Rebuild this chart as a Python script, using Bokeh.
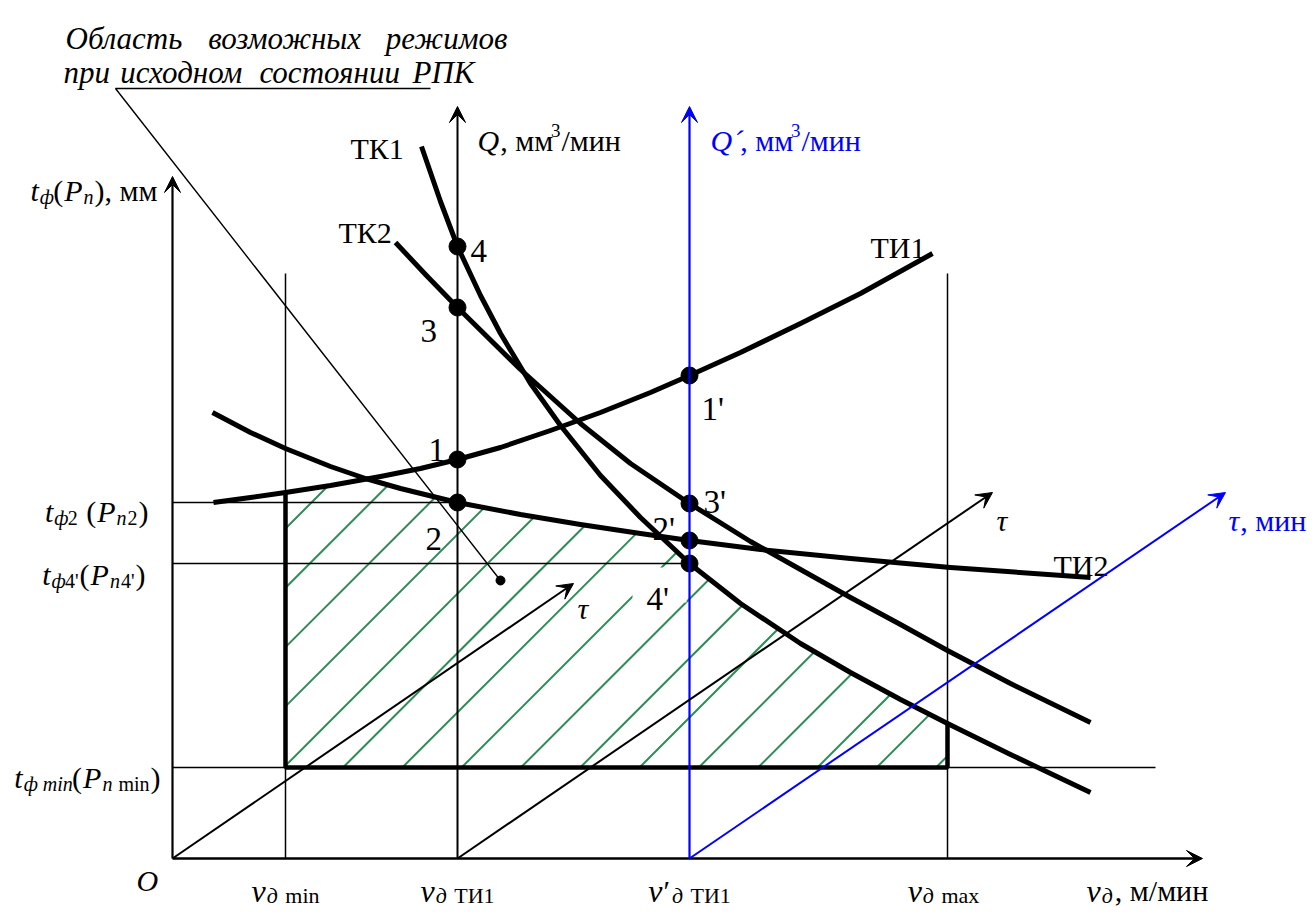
import numpy as np
from bokeh.plotting import figure
from bokeh.models import Range1d, ColumnDataSource, Arrow, VeeHead
from bokeh.core.properties import value
from bokeh.embed import file_html
from bokeh.resources import INLINE

FONT = "Liberation Serif"
BLUE = "#0000ff"
GREEN = "#2e8b57"

# ---------------- diagram data (page pixel coordinates) -------------
O_x, O_y = 172, 858
v_min, v_TI1, v_TI1p, v_max = 285, 457, 689, 947
t_2, t_4p, t_min = 502, 563, 767
x_arrow_end = 1202
t_arrow_top = 176
Q_arrow_top = 106
guide_top = 273
t_min_line_end = 1155

TI1_x = [213, 250, 285, 330, 380, 420, 457, 500, 550, 600, 650, 689, 740, 800, 860, 932]
TI1_y = [502, 497, 492, 485, 476, 468, 459, 447, 430, 412, 392, 375, 352, 323, 293, 253]
TI2_x = [212, 250, 285, 330, 365, 400, 457, 520, 580, 640, 689, 760, 850, 950, 1090]
TI2_y = [412, 432, 448, 466, 478, 488, 502, 514, 524, 533, 540, 549, 558, 567, 577]
TK1_x = [421, 440, 457, 480, 500, 530, 560, 600, 640, 689, 740, 800, 850, 900, 947, 1010, 1090]
TK1_y = [146, 201, 246, 295, 333, 383, 425, 475, 517, 563, 603, 643, 672, 699, 723, 754, 792]
TK2_x = [395, 425, 457, 520, 580, 630, 689, 750, 800, 850, 900, 947, 1010, 1090]
TK2_y = [242, 274, 307, 369, 423, 463, 503, 541, 569, 597, 624, 650, 683, 722]

# tau axes: (start, end)
tau_arrows = [((O_x, O_y), (573, 583), "black"),
              ((v_TI1, O_y), (992, 492), "black"),
              ((v_TI1p, O_y), (1225, 492), BLUE)]

leader_corner = (115, 88)
leader_end_x = 430
leader_dot = (500, 580)

hatch_first = 813
hatch_step = 59.3

# ---------------- figure ----------------
W, H = 1310, 913
p = figure(width=W, height=H, output_backend="svg", toolbar_location=None,
           x_range=Range1d(0, W), y_range=Range1d(H, 0),
           x_axis_type=None, y_axis_type=None, min_border=0)
p.grid.visible = False
p.outline_line_color = None
p.background_fill_color = "white"
p.border_fill_color = "white"

# ---------------- hatching ----------------
grid = np.linspace(v_min, v_max, 4000)
curves = [(TI1_x, TI1_y), (TI2_x, TI2_y), (TK1_x, TK1_y)]
top = np.max(np.vstack([np.interp(grid, cx, cy, left=-1e9, right=-1e9) for cx, cy in curves]), axis=0)
hx0, hy0, hx1, hy1 = [], [], [], []
c = hatch_first
while c < v_max + t_min:
    xl = max(v_min, c - t_min)
    yl = c - xl
    mask = grid >= xl
    gx = grid[mask]
    gy = c - gx
    outside = gy < top[mask]
    if not outside[0]:
        xh = gx[np.argmax(outside)] if outside.any() else v_max
        hx0.append(xl); hy0.append(yl); hx1.append(xh); hy1.append(c - xh)
    c += hatch_step
p.segment(hx0, hy0, hx1, hy1, line_color=GREEN, line_width=2)

# clear area behind label 4'
p.quad(left=[632], right=[686], top=[567], bottom=[602], fill_color="white", line_color=None)

# ---------------- thin guide lines ----------------
p.segment([v_min, v_max], [O_y, O_y], [v_min, v_max], [guide_top, guide_top], line_color="black", line_width=1.5)
p.segment([O_x, O_x, O_x], [t_2, t_4p, t_min], [v_TI1, v_TI1p, t_min_line_end], [t_2, t_4p, t_min],
          line_color="black", line_width=1.5)

# leader line
p.line([leader_end_x, leader_corner[0], leader_dot[0]], [leader_corner[1], leader_corner[1], leader_dot[1]],
       line_color="black", line_width=1.4)
p.scatter([leader_dot[0]], [leader_dot[1]], size=9, color="black")

# ---------------- axes with arrows ----------------
def arrow(x0, y0, x1, y1, color="black", lw=2.0):
    p.add_layout(Arrow(end=VeeHead(size=16, fill_color=color, line_color=color, line_width=1),
                       x_start=x0, y_start=y0, x_end=x1, y_end=y1,
                       line_color=color, line_width=lw))

arrow(O_x, O_y, O_x, t_arrow_top, lw=2.2)
arrow(O_x, O_y, x_arrow_end, O_y, lw=2.5)
arrow(v_TI1, O_y, v_TI1, Q_arrow_top, lw=2.0)
arrow(v_TI1p, O_y, v_TI1p, Q_arrow_top, color=BLUE, lw=2.2)
for (xs, ys), (xe, ye), col in tau_arrows:
    arrow(xs, ys, xe, ye, color=col, lw=2.0)

# ---------------- region border ----------------
edge_top = float(np.interp(v_min, TI1_x, TI1_y))
edge_right = float(np.interp(v_max, TK1_x, TK1_y))
p.line([v_min, v_min, v_max, v_max], [edge_top, t_min, t_min, edge_right], line_color="black", line_width=4.5)

# ---------------- characteristic curves ----------------
for cx, cy in [(TI1_x, TI1_y), (TI2_x, TI2_y), (TK1_x, TK1_y), (TK2_x, TK2_y)]:
    p.line(cx, cy, line_color="black", line_width=5, line_join="round")

pts_x, pts_y = [], []
for vx in (v_TI1, v_TI1p):
    for cx, cy in [(TK1_x, TK1_y), (TK2_x, TK2_y), (TI1_x, TI1_y), (TI2_x, TI2_y)]:
        pts_x.append(vx)
        pts_y.append(float(np.interp(vx, cx, cy)))
p.scatter(pts_x, pts_y, size=17, color="black")

# ---------------- texts ----------------
W_RM = {' ': .25, '(': .333, ')': .333, ',': .25, "'": .18, '/': .278, 'm': .778, 'i': .278,
        'n': .5, 'a': .444, 'x': .5, 'Т': .611, 'К': .667, 'И': .722, 'м': .58, 'и': .535,
        'н': .535, 'Р': .556, 'П': .722, '′': .25}
W_IT = {' ': .25, 't': .278, 'P': .611, 'n': .5, 'v': .444, 'O': .722, 'Q': .722, 'τ': .36,
        'ф': .62, 'д': .55, 'm': .722, 'i': .278, '′': .25, '´': .2,
        'О': .722, 'б': .5, 'л': .5, 'а': .5, 'с': .444, 'т': .722, 'ь': .444, 'в': .444, 'о': .5,
        'з': .4, 'м': .722, 'ж': .75, 'н': .5, 'ы': .7, 'х': .444, 'р': .5, 'е': .444, 'и': .5,
        'п': .5, 'я': .5, 'К': .667, 'Р': .611, 'П': .722}


def tw(s, size, style):
    tbl = W_IT if style == "italic" else W_RM
    return sum(tbl.get(ch, 0.5) for ch in s) * size


rows = dict(x=[], y=[], text=[], size=[], style=[], color=[])
GAP = 1.0


def rich(x, y, parts, color="black", align="left"):
    total = sum(tw(t, s, st) + GAP for t, s, st, dy in parts) - GAP
    if align == "right":
        x -= total
    elif align == "center":
        x -= total / 2
    for t, s, st, dy in parts:
        body = t.lstrip(' ')
        x += (len(t) - len(body)) * tw(' ', s, st)
        rows["x"].append(x); rows["y"].append(y + dy); rows["text"].append(body)
        rows["size"].append(f"{s}px"); rows["style"].append(st); rows["color"].append(color)
        x += tw(body, s, st) + GAP


def justify(words, x0, x1, y, size):
    widths = [tw(w, size, "italic") for w in words]
    gap = (x1 - x0 - sum(widths)) / (len(words) - 1)
    x = x0
    for w, wd in zip(words, widths):
        rows["x"].append(x); rows["y"].append(y); rows["text"].append(w)
        rows["size"].append(f"{size}px"); rows["style"].append("italic"); rows["color"].append("black")
        x += wd + gap


R, I = "normal", "italic"
BIG, SUB = 30, 20

# annotation
justify(["Область", "возможных", "режимов"], 65, 505, 38, 31)
justify(["при", "исходном", "состоянии", "РПК"], 63, 474, 72, 31)

# left axis labels
rich(30, 190, [("t", BIG, I, 0), ("ф", SUB, I, 6), ("(", BIG, R, 0), ("P", BIG, I, 0), ("n", SUB, I, 6),
               ("), мм", BIG, R, 0)])
rich(148, 511, [("t", BIG, I, 0), ("ф", SUB, I, 6), ("2", SUB, R, 6), (" (", BIG, R, 0), ("P", BIG, I, 0),
                ("n", SUB, I, 6), ("2", SUB, R, 6), (")", BIG, R, 0)], align="right")
rich(145, 574, [("t", BIG, I, 0), ("ф", SUB, I, 6), ("4'", SUB, R, 6), ("(", BIG, R, 0), ("P", BIG, I, 0),
                ("n", SUB, I, 6), ("4'", SUB, R, 6), (")", BIG, R, 0)], align="right")
rich(160, 777, [("t", BIG, I, 0), ("ф min", SUB, I, 6), ("(", BIG, R, 0), ("P", BIG, I, 0),
                ("n", SUB, I, 6), (" min", SUB, R, 6), (")", BIG, R, 0)], align="right")
rich(136, 880, [("O", BIG, I, 0)])

# bottom labels
rich(v_min, 890, [("v", 32, I, 0), ("д", 22, I, 5), (" min", 22, R, 5)], align="center")
rich(v_TI1, 890, [("v", 32, I, 0), ("д", 22, I, 5), (" ТИ1", 22, R, 5)], align="center")
rich(v_TI1p, 890, [("v", 32, I, 0), ("′", 30, R, 0), ("д", 22, I, 5), (" ТИ1", 22, R, 5)], align="center")
rich(v_max - 4, 890, [("v", 32, I, 0), ("д", 22, I, 5), (" max", 22, R, 5)], align="center")
rich(1086, 890, [("v", 32, I, 0), ("д", 22, I, 5), (", м/мин", BIG, R, 0)])

# Q axes labels
rich(477, 140, [("Q", BIG, I, 0), (", мм", BIG, R, 0), ("3", 19, R, -10), ("/мин", BIG, R, 0)])
rich(710, 140, [("Q", BIG, I, 0), ("´", BIG, I, 0), (", мм", BIG, R, 0), ("3", 19, R, -10),
                ("/мин", BIG, R, 0)], color=BLUE)

# tau labels
rich(577, 608, [("τ", BIG, I, 0)])
rich(996, 520, [("τ", BIG, I, 0)])
rich(1228, 520, [("τ", BIG, I, 0), (", мин", BIG, R, 0)], color=BLUE)

# curve labels
rich(350, 148, [("ТК1", BIG, R, 0)])
rich(338, 232, [("ТК2", BIG, R, 0)])
rich(870, 247, [("ТИ1", BIG, R, 0)])
rich(1053, 565, [("ТИ2", BIG, R, 0)])

# point labels
for t, lx, ly in [("4", 470, 250), ("3", 420, 330), ("1", 428, 449), ("2", 425, 538),
                  ("1'", 701, 408), ("3'", 703, 501), ("2'", 652, 528), ("4'", 646, 598)]:
    rich(lx, ly, [(t, 33, R, 0)])

p.text(x="x", y="y", text="text", text_font_size="size", text_font_style="style",
       text_color="color", text_font=value(FONT), text_baseline="alphabetic", text_align="left",
       source=ColumnDataSource(rows))

open("out.html", "w").write(file_html(p, INLINE))
